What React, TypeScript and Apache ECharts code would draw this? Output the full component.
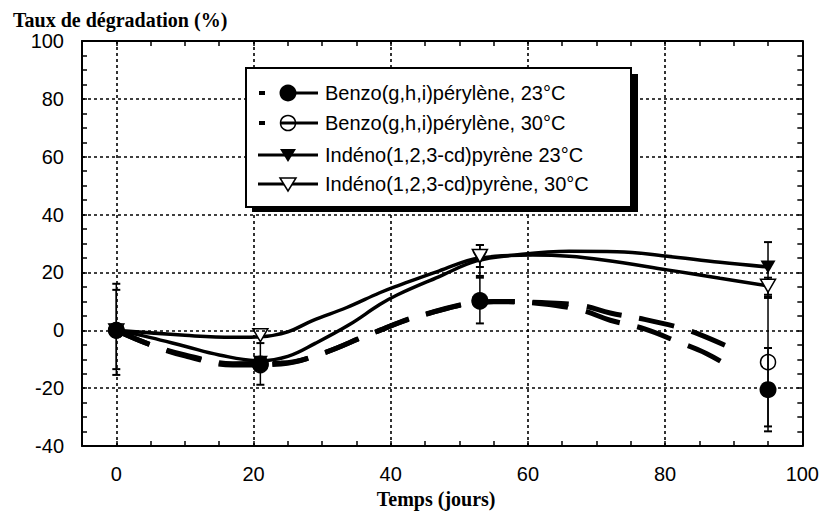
import React, { useEffect, useRef } from "react";
import * as echarts from "echarts";

// ---- data ----
const xDays = [0, 21, 53, 95];
const benzo23 = [0, -11.6, 10.3, -20.5];
const benzo30 = [0, -12, 10, -11];
const indeno23 = [0, -11, 25, 21.9];
const indeno30 = [0, -1.7, 25.7, 15.4];

// error bars [x, low, high]
const benzo23Err = [[0, -15.4, 16.1], [21, -18.8, -4.4], [53, 2.4, 18.2], [95, -34.9, -6.1]];
const benzo30Err = [[95, -33.2, 11.2]];
const indeno23Err = [[0, -13.4, 14], [53, 18.8, 29.5], [95, 12.3, 30.5]];
const indeno30Err = [[53, 21.9, 29.5], [95, 11.6, 18.2]];

// fitted curves
const benzo23Curve = [[0, 0], [5, -5], [10, -8.8], [17, -12], [24, -11.6], [30, -8], [37, -1.3], [45, 5.5], [55, 9.9], [62, 9.2], [68, 6.8], [72, 3.5], [77, 0.5], [82, -4.1], [86, -8], [90, -13.4]];
const benzo30Curve = [[0, 0], [5, -5], [10, -8.5], [17, -11.5], [24, -11.3], [30, -8], [37, -1.3], [45, 5.6], [55, 10], [62, 9.6], [68, 8.5], [72, 6], [77, 3.8], [82, 1], [85, -1.4], [90, -6.5]];
const indeno23Curve = [[0, 0], [5, -2.5], [10, -5.5], [15, -8.5], [21, -10.5], [25, -9], [29, -4.5], [34, 2], [38.4, 8.9], [41, 12.3], [47, 18.5], [52.5, 24], [58, 26], [66, 27.3], [73, 27.2], [80, 25.7], [88, 23.5], [95, 21.9]];
const indeno30Curve = [[0, 0], [10, -1.7], [17, -2.4], [21, -2.2], [25, -0.5], [28.6, 3.4], [33.6, 7.9], [38.4, 13], [41, 15.4], [47, 20.5], [53, 25], [60.7, 26], [66, 25.6], [71, 24.3], [80.3, 20.9], [88, 18], [95, 15.4]];

const xGridValues = [0, 20, 40, 60, 80];
const yGridValues = [-20, 0, 20, 40, 60, 80];

const legendNames = [
  "Benzo(g,h,i)pérylène, 23°C",
  "Benzo(g,h,i)pérylène, 30°C",
  "Indéno(1,2,3-cd)pyrène 23°C",
  "Indéno(1,2,3-cd)pyrène, 30°C",
];

const TITLE = "Taux de dégradation (%)";
const XNAME = "Temps (jours)";

const SANS = "'Liberation Sans', Arial, Helvetica, sans-serif";
const SERIF = "'Liberation Serif', 'Times New Roman', serif";

const zip = (xs: number[], ys: number[]) => xs.map((x, i) => [x, ys[i]]);

function errorSeries(data: number[][]) {
  return {
    type: "custom",
    z: 3,
    silent: true,
    data,
    renderItem: (params: any, api: any) => {
      const x = api.value(0);
      const top = api.coord([x, api.value(2)]);
      const bot = api.coord([x, api.value(1)]);
      const cap = 4;
      const st = { stroke: "#000", lineWidth: 1.5 };
      return {
        type: "group",
        children: [
          { type: "line", shape: { x1: top[0], y1: top[1], x2: bot[0], y2: bot[1] }, style: st },
          { type: "line", shape: { x1: top[0] - cap, y1: top[1], x2: top[0] + cap, y2: top[1] }, style: { stroke: "#000", lineWidth: 2 } },
          { type: "line", shape: { x1: bot[0] - cap, y1: bot[1], x2: bot[0] + cap, y2: bot[1] }, style: { stroke: "#000", lineWidth: 2 } },
        ],
      };
    },
  };
}

function curveSeries(data: number[][], dashed: boolean) {
  return {
    type: "line",
    z: 2,
    silent: true,
    smooth: 0.4,
    showSymbol: false,
    symbol: "none",
    data,
    lineStyle: dashed
      ? { color: "#000", width: 5, type: [36, 18] }
      : { color: "#000", width: 3.5, type: "solid" },
  };
}

function legendGraphic() {
  const rows = [93, 123, 155, 184];
  const els: any[] = [
    { type: "rect", shape: { x: 252, y: 74, width: 386, height: 138 }, style: { fill: "#000" }, z: 100 },
    { type: "rect", shape: { x: 246, y: 68, width: 385, height: 139 }, style: { fill: "#fff", stroke: "#000", lineWidth: 2 }, z: 101 },
  ];
  const lineSt = { stroke: "#000", lineWidth: 3 };
  // row 1
  els.push({ type: "line", shape: { x1: 259, y1: rows[0], x2: 265, y2: rows[0] }, style: { stroke: "#000", lineWidth: 4 }, z: 102 });
  els.push({ type: "line", shape: { x1: 288, y1: rows[0], x2: 318, y2: rows[0] }, style: lineSt, z: 102 });
  els.push({ type: "circle", shape: { cx: 288, cy: rows[0], r: 8.5 }, style: { fill: "#000" }, z: 103 });
  // row 2
  els.push({ type: "line", shape: { x1: 259, y1: rows[1], x2: 265, y2: rows[1] }, style: { stroke: "#000", lineWidth: 4 }, z: 102 });
  els.push({ type: "line", shape: { x1: 281, y1: rows[1], x2: 318, y2: rows[1] }, style: lineSt, z: 102 });
  els.push({ type: "circle", shape: { cx: 288, cy: rows[1], r: 7.5 }, style: { fill: "none", stroke: "#000", lineWidth: 1.5 }, z: 103 });
  // row 3
  els.push({ type: "line", shape: { x1: 258, y1: rows[2], x2: 318, y2: rows[2] }, style: lineSt, z: 102 });
  els.push({ type: "polygon", shape: { points: [[280, rows[2] - 6], [296, rows[2] - 6], [288, rows[2] + 7]] }, style: { fill: "#000" }, z: 103 });
  // row 4
  els.push({ type: "line", shape: { x1: 258, y1: rows[3], x2: 318, y2: rows[3] }, style: lineSt, z: 102 });
  els.push({ type: "polygon", shape: { points: [[280, rows[3] - 6], [296, rows[3] - 6], [288, rows[3] + 7]] }, style: { fill: "#fff", stroke: "#000", lineWidth: 1.5 }, z: 103 });
  legendNames.forEach((name, i) => {
    els.push({
      type: "text",
      x: 325,
      y: rows[i],
      z: 104,
      style: { text: name, fill: "#000", font: `20px ${SANS}`, verticalAlign: "middle" },
    });
  });
  return els;
}

export default function App() {
  const ref = useRef<HTMLDivElement>(null);
  useEffect(() => {
    if (!ref.current) return;
    const chart = echarts.init(ref.current, null, { renderer: "svg" });
    const axisCommon = {
      type: "value",
      interval: 5,
      axisLine: { show: true, onZero: false, lineStyle: { color: "#000", width: 2 } },
      axisTick: { show: true, inside: true, length: 5, lineStyle: { color: "#000", width: 1.5 } },
      splitLine: { show: false },
    };
    const labelFmt = (v: number) => (v % 20 === 0 ? String(v) : "");
    const option: any = {
      animation: false,
      backgroundColor: "#fff",
      grid: { left: 82, right: 19, top: 41, bottom: 64 },
      graphic: [
        { type: "text", left: 13, top: 10, style: { text: TITLE, fill: "#000", font: `bold 20px ${SERIF}` } },
        ...legendGraphic(),
      ],
      xAxis: [
        {
          ...axisCommon,
          min: -5,
          max: 100,
          position: "bottom",
          name: XNAME,
          nameLocation: "middle",
          nameGap: 36,
          nameTextStyle: { color: "#000", fontFamily: SERIF, fontWeight: "bold", fontSize: 20, padding: [0, 12, 0, 0] },
          axisLabel: { formatter: labelFmt, color: "#000", fontFamily: SANS, fontSize: 20, margin: 18 },
        },
        { ...axisCommon, min: -5, max: 100, position: "top", axisLabel: { show: false } },
      ],
      yAxis: [
        {
          ...axisCommon,
          min: -40,
          max: 100,
          position: "left",
          axisLabel: { formatter: labelFmt, color: "#000", fontFamily: SANS, fontSize: 20, margin: 18 },
        },
        { ...axisCommon, min: -40, max: 100, position: "right", axisLabel: { show: false } },
      ],
      series: [
        {
          type: "line",
          z: 1,
          data: [],
          silent: true,
          markLine: {
            silent: true,
            symbol: "none",
            label: { show: false },
            lineStyle: { color: "#000", width: 1.6, type: [3, 3] },
            data: [
              ...xGridValues.map((v) => ({ xAxis: v })),
              ...yGridValues.map((v) => ({ yAxis: v })),
            ],
          },
        },
        curveSeries(benzo23Curve, true),
        curveSeries(benzo30Curve, true),
        curveSeries(indeno23Curve, false),
        curveSeries(indeno30Curve, false),
        errorSeries(benzo23Err),
        errorSeries(benzo30Err),
        errorSeries(indeno23Err),
        errorSeries(indeno30Err),
        {
          name: legendNames[2],
          type: "scatter",
          z: 4,
          symbol: "triangle",
          symbolRotate: 180,
          symbolSize: [15, 13],
          itemStyle: { color: "#000", opacity: 1 },
          data: zip(xDays, indeno23),
        },
        {
          name: legendNames[3],
          type: "scatter",
          z: 4,
          symbol: "triangle",
          symbolRotate: 180,
          symbolSize: [15, 13],
          itemStyle: { color: "#fff", borderColor: "#000", borderWidth: 1.5, opacity: 1 },
          data: zip(xDays, indeno30),
        },
        {
          name: legendNames[1],
          type: "scatter",
          z: 4,
          symbol: "circle",
          symbolSize: 15,
          itemStyle: { color: "rgba(0,0,0,0)", borderColor: "#000", borderWidth: 1.5, opacity: 1 },
          data: zip(xDays, benzo30),
        },
        {
          name: legendNames[0],
          type: "scatter",
          z: 5,
          symbol: "circle",
          symbolSize: 17,
          itemStyle: { color: "#000", opacity: 1 },
          data: zip(xDays, benzo23),
        },
      ],
    };
    chart.setOption(option);
    return () => chart.dispose();
  }, []);
  return (
    <div
      ref={ref}
      style={{ position: "fixed", left: 0, top: 0, width: 822, height: 514, background: "#fff" }}
    />
  );
}
